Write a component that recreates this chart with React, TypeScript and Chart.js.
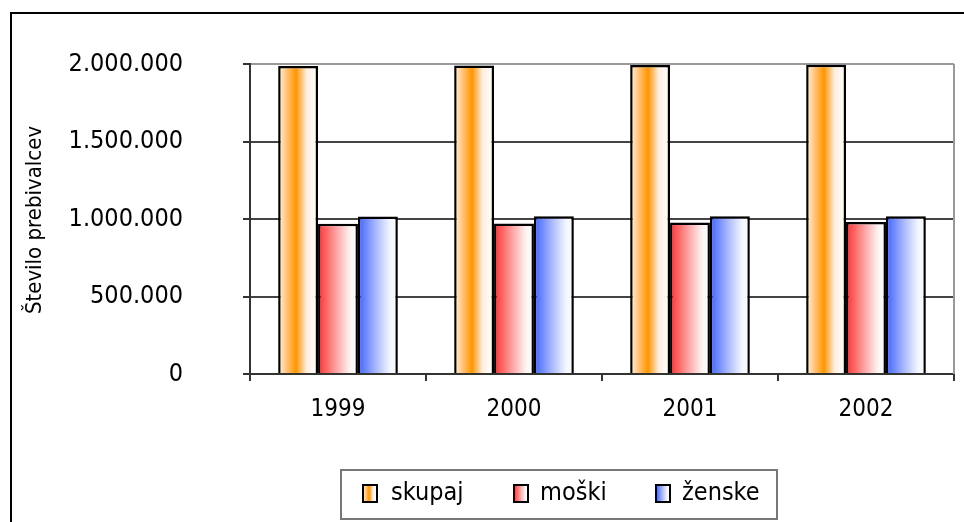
import React, { useEffect, useRef } from "react";
import { Chart, registerables } from "chart.js";

Chart.register(...registerables);

const years = ["1999", "2000", "2001", "2002"];
const seriesNames = ["skupaj", "moški", "ženske"];
const skupaj = [1987000, 1990000, 1994000, 1995000];
const moski = [970000, 971000, 978000, 980000];
const zenske = [1016000, 1017000, 1018000, 1018000];
const yTicks = [0, 500000, 1000000, 1500000, 2000000];
const yTitle = "Število prebivalcev";

const FONT = '"DejaVu Sans Condensed", "DejaVu Sans", sans-serif';

const gradStops: [number, string][][] = [
  [[0, "#fff3e6"], [0.22, "#ffc27a"], [0.45, "#ff9500"], [0.72, "#fff0e0"], [1, "#ffffff"]],
  [[0, "#ff3030"], [0.45, "#ffa0a0"], [0.8, "#fff3f3"], [1, "#ffffff"]],
  [[0, "#3f62ff"], [0.45, "#a8b8ff"], [0.8, "#f3f5ff"], [1, "#ffffff"]],
];

const fmt = (v: number) => String(v).replace(/\B(?=(\d{3})+(?!\d))/g, ".");

function makeGrad(ctx: CanvasRenderingContext2D, left: number, width: number, stops: [number, string][]) {
  const g = ctx.createLinearGradient(left, 0, left + width, 0);
  stops.forEach(([o, c]) => g.addColorStop(o, c));
  return g;
}

const decorPlugin = {
  id: "decor",
  beforeDatasetsDraw(chart: any) {
    const ctx = chart.ctx;
    chart.data.datasets.forEach((_d: any, di: number) => {
      const meta = chart.getDatasetMeta(di);
      meta.data.forEach((el: any) => {
        const p = el.getProps(["x", "width"], true);
        const left = p.x - p.width / 2;
        el.options.backgroundColor = makeGrad(ctx, left, p.width, gradStops[di]);
      });
    });
  },
  afterDraw(chart: any) {
    const ctx = chart.ctx as CanvasRenderingContext2D;
    const a = chart.chartArea;
    ctx.save();
    // outer frame
    ctx.strokeStyle = "#000";
    ctx.lineWidth = 2;
    ctx.strokeRect(11, 13, 2000, 2000);
    // right plot border
    ctx.strokeStyle = "#999";
    ctx.lineWidth = 2;
    ctx.beginPath();
    ctx.moveTo(a.right, a.top);
    ctx.lineTo(a.right, a.bottom);
    ctx.stroke();
    // y title
    ctx.fillStyle = "#000";
    ctx.font = `22px ${FONT}`;
    ctx.textAlign = "center";
    ctx.textBaseline = "middle";
    ctx.translate(35, 220);
    ctx.rotate(-Math.PI / 2);
    ctx.fillText(yTitle, 0, 0);
    ctx.restore();

    // legend
    ctx.save();
    ctx.strokeStyle = "#777";
    ctx.lineWidth = 2;
    ctx.strokeRect(341, 470, 436, 49);
    const items = [
      { mx: 363, tx: 391 },
      { mx: 514, tx: 540 },
      { mx: 656, tx: 682 },
    ];
    ctx.font = `25px ${FONT}`;
    ctx.textBaseline = "middle";
    ctx.textAlign = "left";
    items.forEach((it, i) => {
      ctx.fillStyle = makeGrad(ctx, it.mx, 14, gradStops[i]);
      ctx.fillRect(it.mx, 485, 14, 17);
      ctx.strokeStyle = "#000";
      ctx.lineWidth = 2;
      ctx.strokeRect(it.mx, 485, 14, 17);
      ctx.fillStyle = "#000";
      ctx.fillText(seriesNames[i], it.tx, 493);
    });
    ctx.restore();
  },
};

export default function App() {
  const ref = useRef<HTMLCanvasElement | null>(null);
  useEffect(() => {
    if (!ref.current) return;
    const chart = new Chart(ref.current, {
      type: "bar",
      data: {
        labels: years,
        datasets: [skupaj, moski, zenske].map((d, i) => ({
          label: seriesNames[i],
          data: d,
          backgroundColor: () => "#ffffff",
          borderColor: "#000",
          borderWidth: 2.5,
          categoryPercentage: 0.68,
          barPercentage: 1.0,
        })),
      },
      options: {
        responsive: false,
        animation: false,
        layout: { padding: { left: 0, top: 64, right: 10, bottom: 100 } },
        plugins: {
          legend: { display: false },
          tooltip: { enabled: false },
        },
        scales: {
          x: {
            afterFit: (s: any) => {
              s.height = 48;
              s.paddingLeft = 0;
              s.paddingRight = 0;
            },
            grid: {
              offset: true,
              drawOnChartArea: false,
              drawTicks: true,
              tickLength: 7,
              tickColor: "#333",
              lineWidth: 2,
            },
            border: { display: true, color: "#333", width: 2 },
            ticks: {
              color: "#000",
              font: { family: FONT, size: 24 },
              padding: 14,
            },
          },
          y: {
            min: 0,
            max: 2000000,
            afterFit: (s: any) => {
              s.width = 250;
              s.paddingTop = 0;
              s.paddingBottom = 0;
            },
            afterBuildTicks: (s: any) => {
              s.ticks = yTicks.map((v) => ({ value: v }));
            },
            grid: {
              color: (c: any) => (c.tick && c.tick.value === 2000000 ? "#999" : "#444"),
              lineWidth: 2,
              tickLength: 7,
              tickColor: "#333",
            },
            border: { display: true, color: "#333", width: 2 },
            ticks: {
              color: "#000",
              font: { family: FONT, size: 25 },
              padding: 60,
              callback: (v: any) => fmt(Number(v)),
            },
          },
        },
      },
      plugins: [decorPlugin],
    });
    return () => chart.destroy();
  }, []);
  return (
    <div style={{ position: "absolute", left: 0, top: 0, width: 964, height: 522, background: "#fff" }}>
      <canvas ref={ref} width={964} height={522} />
    </div>
  );
}
